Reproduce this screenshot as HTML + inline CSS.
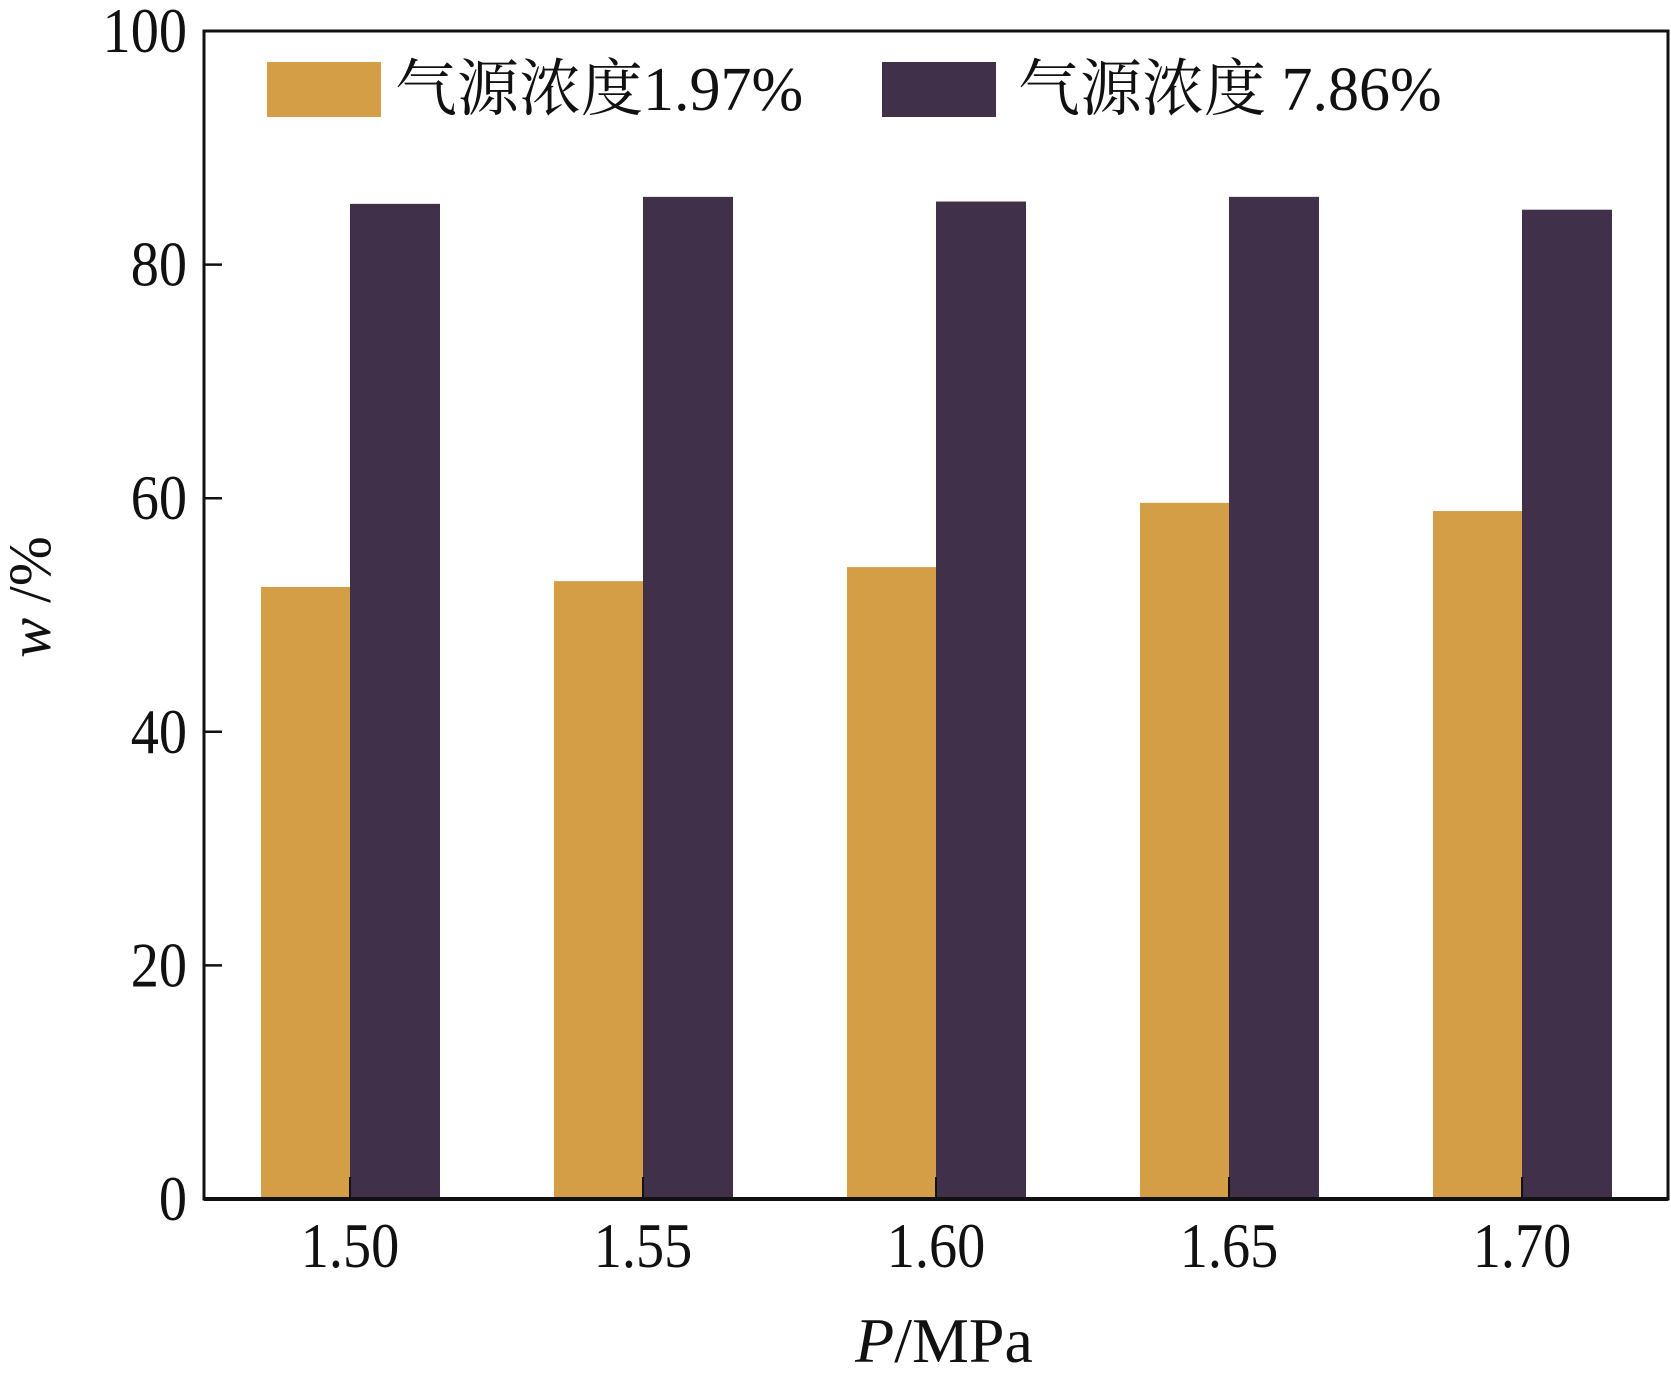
<!DOCTYPE html>
<html><head><meta charset="utf-8">
<style>
html,body{margin:0;padding:0;background:#fff;}
svg{display:block;}
text{font-family:"Liberation Serif","Noto Serif CJK SC",serif;fill:#111;}
</style></head>
<body>
<svg id="chart" width="1671" height="1380" viewBox="0 0 1671 1380" xmlns="http://www.w3.org/2000/svg">
<g id="bars"></g>
<g id="axes"></g>
<g>
<rect x="267" y="62" width="114" height="55" fill="#d49e47"/>
<text x="395" y="110" font-size="62">气源浓度1.97%</text>
<rect x="882" y="62" width="114" height="55" fill="#40304a"/>
<text x="1018" y="110" font-size="62">气源浓度 7.86%</text>
</g>
<text x="944" y="1362" font-size="64" text-anchor="middle"><tspan font-style="italic">P</tspan>/MPa</text>
<text transform="translate(50,597) rotate(-90)" font-size="60" text-anchor="middle"><tspan font-style="italic">w</tspan> /%</text>
</svg>
<script>
const categories = ["1.50","1.55","1.60","1.65","1.70"];
const seriesLow = [52.4, 52.9, 54.1, 59.6, 58.9];
const seriesHigh = [85.2, 85.8, 85.4, 85.8, 84.7];
const yTicks = [0, 20, 40, 60, 80, 100];

const NS = "http://www.w3.org/2000/svg";
const L = 204, R = 1668, T = 31, B = 1199;
const yMax = 100;
function yScale(v){ return B - (v / yMax) * (B - T); }
const step = 293, firstCenter = 350;
function xScale(i){ return firstCenter + i * step; }
const bw = 89;
const sx = 0.88;

function mk(tag, attrs, parent){
  const e = document.createElementNS(NS, tag);
  for (const k in attrs) e.setAttribute(k, attrs[k]);
  parent.appendChild(e);
  return e;
}
const bars = document.getElementById('bars');
const axes = document.getElementById('axes');

categories.forEach((c, i) => {
  const cx = xScale(i);
  const r1 = mk('rect', {x: cx - bw, y: yScale(seriesLow[i]), width: bw, height: B - yScale(seriesLow[i]), fill: '#d49e47'}, bars);
  
  
  const r2 = mk('rect', {x: cx, y: yScale(seriesHigh[i]), width: bw + 1, height: B - yScale(seriesHigh[i]), fill: '#40304a'}, bars);
  
  
  const t = mk('line', {x1: cx, x2: cx, y1: B, y2: B - 22, stroke: '#111', 'stroke-width': 2}, axes);
  
  
  const lb = mk('text', {x: cx / sx, y: 1267, 'font-size': 64, 'text-anchor': 'middle', transform: 'scale(' + sx + ',1)'}, axes);
  
  
  lb.textContent = c;
});

yTicks.forEach(v => {
  const y = yScale(v);
  const t = mk('line', {x1: L, x2: L + 18, y1: y, y2: y, stroke: '#111', 'stroke-width': 2.5}, axes);
  
  
  const lb = mk('text', {x: 187 / sx, y: y + 21, 'font-size': 64, 'text-anchor': 'end', transform: 'scale(' + sx + ',1)'}, axes);
  
  
  lb.textContent = v;
});

const frame = mk('rect', {x: L, y: T, width: R - L, height: B - T, fill: 'none', stroke: '#111', 'stroke-width': 3}, axes);


const base = mk('line', {x1: L, x2: R, y1: B, y2: B, stroke: '#111', 'stroke-width': 4}, axes);


</script>
</body></html>
